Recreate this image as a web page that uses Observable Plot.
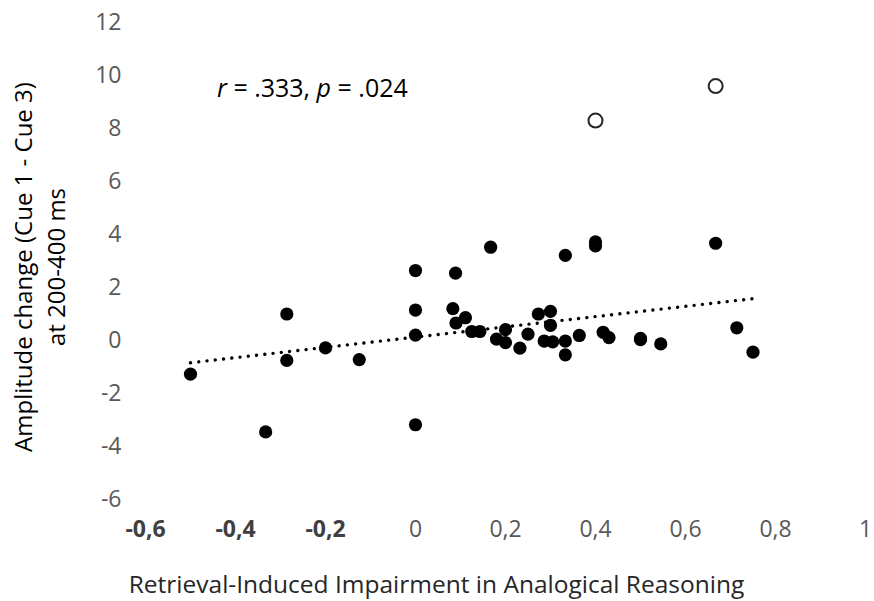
<!DOCTYPE html>
<html>
<head>
<meta charset="utf-8">
<script src="https://cdn.jsdelivr.net/npm/d3@7"></script>
<script src="https://cdn.jsdelivr.net/npm/@observablehq/plot@0.6"></script>
<style>
  html, body { margin: 0; padding: 0; background: #fff; }
  #chart { width: 874px; height: 601px; }
</style>
</head>
<body>
<div id="chart"></div>
<script>
// ---- data ----
const filledX = [-0.5, -0.333, -0.286, -0.286, -0.2, -0.125, 0, 0, 0, 0,
  0.083, 0.089, 0.09, 0.111, 0.125, 0.143, 0.167, 0.18, 0.2, 0.2,
  0.232, 0.25, 0.273, 0.286, 0.3, 0.3, 0.305, 0.333, 0.333, 0.333,
  0.364, 0.4, 0.4, 0.417, 0.43, 0.5, 0.5, 0.545, 0.667, 0.714, 0.75];
const filledY = [-1.27, -3.45, 1.0, -0.75, -0.28, -0.72, 2.64, 1.15, 0.2, -3.18,
  1.2, 2.54, 0.66, 0.86, 0.34, 0.34, 3.52, 0.05, 0.41, -0.08,
  -0.29, 0.24, 1.0, -0.02, 1.1, 0.57, -0.05, 3.21, -0.02, -0.54,
  0.19, 3.72, 3.57, 0.31, 0.11, 0.08, 0.03, -0.13, 3.67, 0.48, -0.44];
const openX = [0.4, 0.667];
const openY = [8.3, 9.6];
const trendX = [-0.5, 0.75];
const trendY = [-0.84, 1.58];
const xTicks = [-0.6, -0.4, -0.2, 0, 0.2, 0.4, 0.6, 0.8, 1];
const xTickLabels = ["-0,6", "-0,4", "-0,2", "0", "0,2", "0,4", "0,6", "0,8", "1"];
const yTicks = [-6, -4, -2, 0, 2, 4, 6, 8, 10, 12];
const yTickLabels = ["-6", "-4", "-2", "0", "2", "4", "6", "8", "10", "12"];
const xTitle = "Retrieval-Induced Impairment in Analogical Reasoning";
const yTitle = "Amplitude change (Cue 1 - Cue 3)\nat 200-400 ms";
const statParts = [["r", true], [" = .333, ", false], ["p", true], [" = .024", false]];

const filled = filledX.map((x, i) => ({x, y: filledY[i]}));
const open = openX.map((x, i) => ({x, y: openY[i]}));
const trend = trendX.map((x, i) => ({x, y: trendY[i]}));
const xLab = new Map(xTicks.map((t, i) => [t, xTickLabels[i]]));
const yLab = new Map(yTicks.map((t, i) => [t, yTickLabels[i]]));
const negTicks = xTicks.filter(t => t < 0);
const posTicks = xTicks.filter(t => t >= 0);

const font = "Open Sans";
const plot = Plot.plot({
  width: 874,
  height: 601,
  marginLeft: 145,
  marginRight: 9,
  marginTop: 22,
  marginBottom: 102,
  style: {fontFamily: font, background: "#fff"},
  x: {domain: [-0.6, 1]},
  y: {domain: [-6, 12]},
  marks: [
    Plot.axisY({ticks: yTicks, tickSize: 0, tickPadding: 24, tickFormat: d => yLab.get(d),
      fontSize: 23, color: "#595959", label: null}),
    Plot.axisX({ticks: negTicks, tickSize: 0, tickPadding: 21, tickFormat: d => xLab.get(d),
      fontSize: 23, fontWeight: "bold", color: "#404040", label: null}),
    Plot.axisX({ticks: posTicks, tickSize: 0, tickPadding: 21, tickFormat: d => xLab.get(d),
      fontSize: 23, color: "#595959", label: null}),
    Plot.line(trend, {x: "x", y: "y", stroke: "#000", strokeWidth: 3.4,
      strokeLinecap: "round", strokeDasharray: "0.01 8.3"}),
    Plot.dot(filled, {x: "x", y: "y", r: 6.6, fill: "#000", stroke: "none"}),
    Plot.dot(open, {x: "x", y: "y", r: 7, fill: "#fff", stroke: "#262626", strokeWidth: 2}),
    Plot.text([xTitle], {frameAnchor: "bottom", dx: -69, dy: 86, lineAnchor: "middle",
      fontSize: 24.5, fill: "#262626"}),
    Plot.text([yTitle], {frameAnchor: "left", dx: -108, dy: 6, rotate: -90, lineAnchor: "middle",
      textAnchor: "middle", lineHeight: 1.38, fontSize: 24, fill: "#000"})
  ]
});

const svg = d3.select(plot);
const sx = plot.scale("x"), sy = plot.scale("y");
const t = svg.append("text")
  .attr("x", sx.apply(-0.44))
  .attr("y", sy.apply(9.5))
  .attr("dy", "0.35em")
  .attr("text-anchor", "start")
  .attr("font-size", 25)
  .attr("font-family", font)
  .attr("fill", "#000");
statParts.forEach(([s, it]) => t.append("tspan").attr("font-style", it ? "italic" : "normal").text(s));

document.getElementById("chart").appendChild(plot);
</script>
</body>
</html>
